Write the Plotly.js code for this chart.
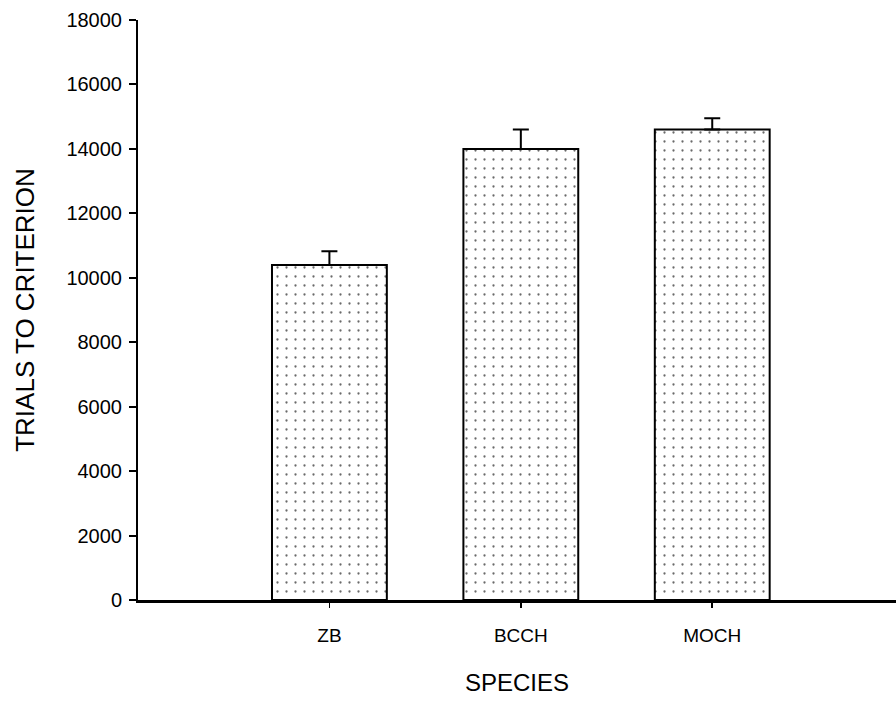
<!DOCTYPE html>
<html>
<head>
<meta charset="utf-8">
<script src="https://cdn.plot.ly/plotly-3.0.1.min.js"></script>
<style>
  html, body { margin: 0; padding: 0; background: #fff; }
  #chart { width: 896px; height: 701px; }
</style>
</head>
<body>
<div id="chart"></div>
<script>
// Mean trials to criterion per species, with upper SE bars
const species = ['ZB', 'BCCH', 'MOCH'];
const positions = [1, 2, 3];
const trials = [10400, 14000, 14600];
const errUpper = [420, 600, 350];

const font = 'Liberation Sans, Arial, sans-serif';

const trace = {
  type: 'bar',
  x: positions,
  y: trials,
  width: 0.6,
  marker: {
    color: '#ffffff',
    line: { color: '#000000', width: 2 },
    pattern: { shape: '.', size: 9, solidity: 0.05, fgcolor: '#6a6a6a', bgcolor: '#ffffff' }
  },
  error_y: {
    type: 'data',
    symmetric: false,
    array: errUpper,
    arrayminus: [0, 0, 0],
    color: '#000000',
    thickness: 2,
    width: 8
  },
  hoverinfo: 'x+y'
};

const layout = {
  width: 896,
  height: 701,
  margin: { l: 138, r: 0, t: 20, b: 101 },
  paper_bgcolor: '#ffffff',
  plot_bgcolor: '#ffffff',
  showlegend: false,
  font: { family: font, size: 19, color: '#000000' },
  xaxis: {
    range: [0, 3.96],
    tickmode: 'array',
    tickvals: positions,
    ticktext: species,
    ticks: 'outside',
    ticklen: 5,
    tickwidth: 1.5,
    tickcolor: '#000',
    ticklabelstandoff: 12,
    showline: true,
    linecolor: '#000',
    linewidth: 2.5,
    showgrid: false,
    zeroline: false,
    tickfont: { family: font, size: 19 },
    title: { text: 'SPECIES', font: { family: font, size: 24 }, standoff: 29 }
  },
  yaxis: {
    range: [0, 18000],
    tickmode: 'linear',
    tick0: 0,
    dtick: 2000,
    tickformat: 'd',
    ticks: 'outside',
    ticklen: 7,
    tickwidth: 2,
    tickcolor: '#000',
    ticklabelstandoff: 3,
    showline: true,
    linecolor: '#000',
    linewidth: 2,
    showgrid: false,
    zeroline: false,
    tickfont: { family: font, size: 20 },
    title: { text: 'TRIALS TO CRITERION', font: { family: font, size: 26 }, standoff: 24 }
  }
};

Plotly.newPlot('chart', [trace], layout, { displayModeBar: false, staticPlot: true });
</script>
</body>
</html>
